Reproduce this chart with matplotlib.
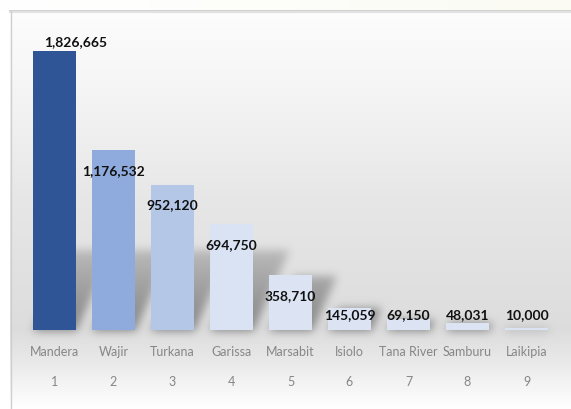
import matplotlib.pyplot as plt
import numpy as np

counties = ["Mandera", "Wajir", "Turkana", "Garissa", "Marsabit",
            "Isiolo", "Tana River", "Samburu", "Laikipia"]
ranks = ["1", "2", "3", "4", "5", "6", "7", "8", "9"]
people = [1826665, 1176532, 952120, 694750, 358710, 145059, 69150, 48031, 10000]
bar_colors = ["#2F5597", "#8FAADC", "#B4C7E7", "#DAE3F3", "#DCE4F3",
              "#DCE4F3", "#DCE4F3", "#DCE4F3", "#DCE4F3"]

W, H, DPI = 571, 410, 100
plt.rcParams["font.family"] = ["Lato", "DejaVu Sans"]

fig = plt.figure(figsize=(W / DPI, H / DPI), dpi=DPI)
bg = fig.add_axes([0, 0, 1, 1])
bg.set_xlim(0, W)
bg.set_ylim(H, 0)
bg.axis("off")

# main axes, placed so the bars sit on the same pixels as the reference
x0, base, step = 25, 331, 59
ymax = 2000000
px_per_unit = 279 / people[0]
ax = fig.add_axes([x0 / W, (H - base) / H, 9 * step / W, ymax * px_per_unit / H])
ax.set_xlim(-0.5, 8.5)
ax.set_ylim(0, ymax)
ax.patch.set_alpha(0)
ax.axis("off")

xs = np.arange(len(people))
bw = 43 / step
ax.bar(xs, people, width=bw, color=bar_colors, zorder=2)

# background panel: vertical grey gradient, cream strip on top
ys = np.arange(H)
shade = np.interp(ys, [0, 11, 14, 80, 200, 330, 360, 400, 410],
                  [1.0, 1.0, 0.99, 0.965, 0.905, 0.865, 0.91, 0.985, 1.0])
img = np.ones((H, W, 3))
img[:, 10:, :] = shade[:, None, None]
t = np.linspace(1.0, 0.0, W)[None, :, None]
img[:11, :, :] = t + (1 - t) * np.array([0.985, 0.985, 0.955])

# soft cast shadows: bar footprints skewed up-right, then blurred
fig.canvas.draw()
mask = np.zeros((H, W))
yy, xx = np.mgrid[0:H, 0:W]
for x, v in zip(xs, people):
    (xl, yb), (xr, yt) = ax.transData.transform([(x - bw / 2, 0), (x + bw / 2, v)])
    yb, yt = H - yb, H - yt
    sh = min(yb - yt, 80)
    up = yb - yy
    inside = (up >= 0) & (up <= sh)
    shift = up * 0.45
    inside &= (xx >= xl + shift) & (xx <= xr + shift)
    mask = np.maximum(mask, inside * (1 - 0.55 * up / 80))
k = np.exp(-0.5 * (np.arange(-12, 13) / 4.5) ** 2)
k /= k.sum()
mask = np.apply_along_axis(lambda r: np.convolve(r, k, mode="same"), 1, mask)
mask = np.apply_along_axis(lambda c: np.convolve(c, k, mode="same"), 0, mask)
img = img * (1 - 0.4 * mask[:, :, None])

bg.imshow(img, extent=(0, W, H, 0), aspect="auto", interpolation="bilinear")
bg.plot([10, W], [11.5, 11.5], color="#c8c8c8", lw=1.2)
bg.plot([10, W], [13, 13], color="#e2e2e2", lw=1.5)
bg.plot([10.5, 10.5], [11.5, H], color="#cfcfcf", lw=1)

# value labels
for x, v in zip(xs, people):
    hp = v * px_per_unit
    dx = 0
    if v == max(people):
        cy, dx = hp + 10, 21
    elif hp - 20 > 25:
        cy = hp - 20
    else:
        cy = 16
    ax.annotate(f"{v:,}", xy=(x, 0), xytext=(dx * 72 / DPI, cy * 72 / DPI),
                textcoords="offset points", ha="center", va="center",
                fontsize=10, fontweight="bold", color="#111111", zorder=3)

# county names and ranks under the bars
for x, name, r in zip(xs, counties, ranks):
    ax.annotate(name, xy=(x, 0), xytext=(0, -21 * 72 / DPI),
                textcoords="offset points", ha="center", va="center",
                fontsize=9, color="#868686", annotation_clip=False)
    ax.annotate(r, xy=(x, 0), xytext=(0, -51 * 72 / DPI),
                textcoords="offset points", ha="center", va="center",
                fontsize=9, color="#868686", annotation_clip=False)

fig.savefig("out.png", dpi=DPI)
